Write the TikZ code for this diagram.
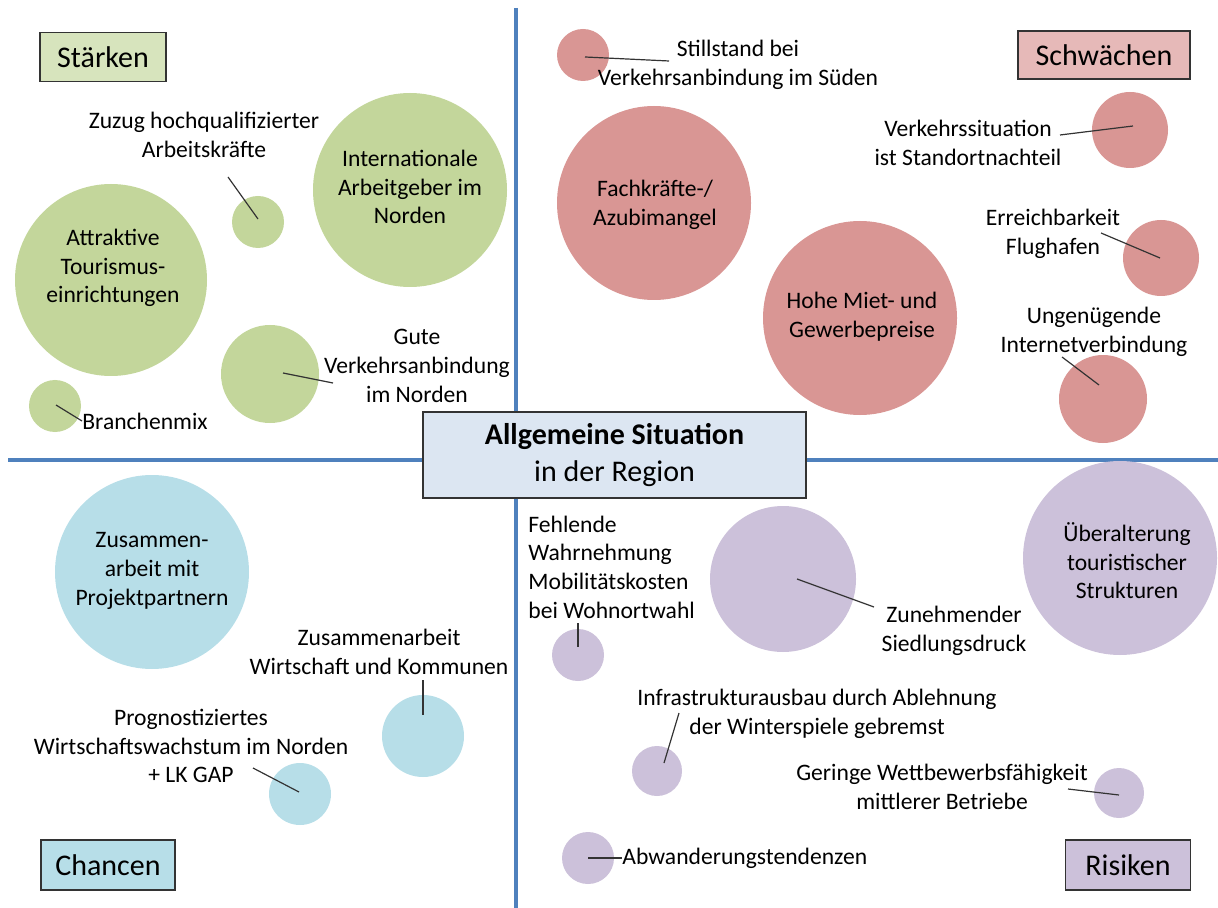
\documentclass[tikz,border=0pt]{standalone}
\usepackage{fontspec}
\setmainfont{Carlito}
\begin{document}
\begin{tikzpicture}[x=0.5pt,y=-0.5pt,
  txt/.style={inner sep=0pt,align=center,font=\fontsize{11.8}{14.3}\selectfont},
  bub/.style={circle,inner sep=0pt,draw=none},
  gbub/.style={bub,fill=gfill},
  rbub/.style={bub,fill=rfill},
  bbub/.style={bub,fill=bfill},
  pbub/.style={bub,fill=pfill},
  titlebox/.style={draw=black!80,line width=0.6pt,inner sep=0pt,font=\fontsize{15}{18}\selectfont},
  axis/.style={draw=axiscol,line width=1.6pt},
  lead/.style={draw=black!80,line width=0.6pt}]
\definecolor{gfill}{HTML}{C3D69B}
\definecolor{rfill}{HTML}{D99694}
\definecolor{bfill}{HTML}{B7DEE8}
\definecolor{pfill}{HTML}{CCC1DA}
\definecolor{gbox}{HTML}{D7E4BD}
\definecolor{rbox}{HTML}{E6B9B8}
\definecolor{cbox}{HTML}{DCE6F2}
\definecolor{axiscol}{HTML}{4F81BD}
\useasboundingbox (0,0) rectangle (1218,908);

% centre box
\node[draw=black!80,line width=0.6pt,fill=cbox,minimum width=191.5pt,minimum height=43pt,inner sep=0pt,align=center,font=\fontsize{15}{18.5}\selectfont] (center) at (614.5,455) {\textbf{Allgemeine Situation}\\in der Region};

% axes
\coordinate (axL) at (8,460);
\coordinate (axR) at (1218,460);
\coordinate (axT) at (516,8);
\coordinate (axB) at (516,908);
\draw[axis] (axL) -- (center.west |- axL);
\draw[axis] (center.east |- axR) -- (axR);
\draw[axis] (axT) -- (axT |- center.north);
\draw[axis] (axB |- center.south) -- (axB);

% title boxes
\node[titlebox,fill=gbox,minimum width=63pt,minimum height=24.5pt] (staerken) at (103,57) {Stärken};
\node[titlebox,fill=rbox,minimum width=86pt,minimum height=24pt] (schwaechen) at (1104,55) {Schwächen};
\node[titlebox,fill=bfill,minimum width=67pt,minimum height=25pt] (chancen) at (108,865) {Chancen};
\node[titlebox,fill=pfill,minimum width=62.5pt,minimum height=25pt] (risiken) at (1128,865) {Risiken};

% ---------- Stärken ----------
\node[gbub,minimum size=96pt] (attr) at (111,280) {};
\node[txt] at (113,268) {Attraktive\\Tourismus-\\einrichtungen};
\node[gbub,minimum size=26pt] (zuzug) at (258,222) {};
\node[txt] (zuzugT) at (204,135) {Zuzug hochqualifizierter\\Arbeitskräfte};
\node[gbub,minimum size=97pt] (intl) at (410,190) {};
\node[txt] at (410,187) {Internationale\\Arbeitgeber im\\Norden};
\node[gbub,minimum size=49pt] (gute) at (270,374) {};
\node[txt] (guteT) at (417,366) {Gute\\Verkehrsanbindung\\im Norden};
\node[gbub,minimum size=26pt] (branch) at (55,406) {};
\node[txt,anchor=west] (branchT) at (82,421) {Branchenmix};

\coordinate (zuzugA) at (228,177);
\coordinate (zuzugB) at (258,219);
\draw[lead] (zuzugA) -- (zuzugB);
\coordinate (guteA) at (283,373);
\coordinate (guteB) at (333,383);
\draw[lead] (guteA) -- (guteB);
\coordinate (branchA) at (56,405);
\draw[lead] (branchA) -- (branchT.west);

% ---------- Schwächen ----------
\node[rbub,minimum size=26pt] (still) at (583,55) {};
\node[txt] (stillT) at (738,65) {Stillstand bei\\Verkehrsanbindung im Süden};
\node[rbub,minimum size=97pt] (fach) at (654,203) {};
\node[txt] at (655,205) {Fachkräfte-/\\Azubimangel};
\node[rbub,minimum size=97pt] (hohe) at (860,318) {};
\node[txt] at (862,317) {Hohe Miet- und\\Gewerbepreise};
\node[rbub,minimum size=38pt] (verk) at (1130,130) {};
\node[txt] (verkT) at (968,143) {Verkehrssituation\\ist Standortnachteil};
\node[rbub,minimum size=38pt] (erreich) at (1161,258) {};
\node[txt] (erreichT) at (1053,234) {Erreichbarkeit\\Flughafen};
\node[rbub,minimum size=44pt] (internet) at (1103,399) {};
\node[txt] (internetT) at (1094,332) {Ungenügende\\Internetverbindung};

\coordinate (stillA) at (585,57);
\coordinate (stillB) at (669,61);
\draw[lead] (stillA) -- (stillB);
\coordinate (verkA) at (1060,135);
\coordinate (verkB) at (1133,126);
\draw[lead] (verkA) -- (verkB);
\coordinate (erreichA) at (1101,233);
\coordinate (erreichB) at (1160,258);
\draw[lead] (erreichA) -- (erreichB);
\coordinate (internetA) at (1062,357);
\coordinate (internetB) at (1099,385);
\draw[lead] (internetA) -- (internetB);

% ---------- Chancen ----------
\node[bbub,minimum size=97pt] (zus) at (152,572) {};
\node[txt] at (152,571) {Zusammen-\\arbeit mit\\Projektpartnern};
\node[bbub,minimum size=41pt] (wirt) at (423,736) {};
\node[txt] (wirtT) at (379,652) {Zusammenarbeit\\Wirtschaft und Kommunen};
\node[bbub,minimum size=31pt] (prog) at (300,794) {};
\node[txt] (progT) at (191,746) {Prognostiziertes\\Wirtschaftswachstum im Norden\\+ LK GAP};

\coordinate (wirtA) at (423,680);
\coordinate (wirtB) at (423,715);
\draw[lead] (wirtA) -- (wirtB);
\coordinate (progA) at (253,768);
\coordinate (progB) at (299,792);
\draw[lead] (progA) -- (progB);

% ---------- Risiken ----------
\node[txt,align=left,anchor=west] (fehlT) at (528,567) {Fehlende\\Wahrnehmung\\Mobilitätskosten\\bei Wohnortwahl};
\node[pbub,minimum size=26pt] (fehl) at (578,655) {};
\node[pbub,minimum size=73pt] (siedl) at (783,579) {};
\node[txt] (siedlT) at (954,631) {Zunehmender\\Siedlungsdruck};
\node[pbub,minimum size=97pt] (ueber) at (1120,558) {};
\node[txt] at (1127,561) {Überalterung\\touristischer\\Strukturen};
\node[pbub,minimum size=25pt] (infra) at (657,771) {};
\node[txt] (infraT) at (817,714) {Infrastrukturausbau durch Ablehnung\\der Winterspiele gebremst};
\node[pbub,minimum size=25pt] (gering) at (1119,793) {};
\node[txt] (geringT) at (942,787) {Geringe Wettbewerbsfähigkeit\\mittlerer Betriebe};
\node[pbub,minimum size=26pt] (abw) at (588,858) {};
\node[txt,anchor=west] (abwT) at (622,858) {Abwanderungstendenzen};

\coordinate (fehlA) at (578,623);
\coordinate (fehlB) at (578,647);
\draw[lead] (fehlA) -- (fehlB);
\coordinate (siedlA) at (797,579);
\coordinate (siedlB) at (874,607);
\draw[lead] (siedlA) -- (siedlB);
\coordinate (infraA) at (679,713);
\coordinate (infraB) at (664,763);
\draw[lead] (infraA) -- (infraB);
\coordinate (geringA) at (1068,789);
\coordinate (geringB) at (1119,795);
\draw[lead] (geringA) -- (geringB);
\coordinate (abwA) at (588,858);
\draw[lead] (abwA) -- (abwT.west);
\end{tikzpicture}
\end{document}
